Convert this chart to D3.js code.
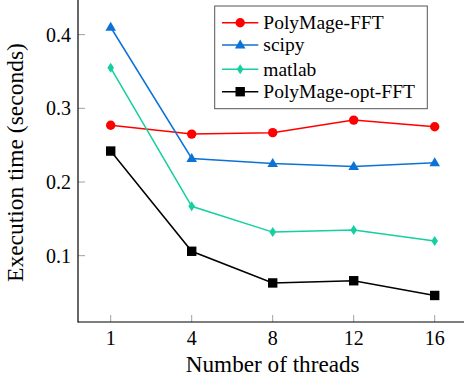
<!DOCTYPE html>
<html>
<head>
<meta charset="utf-8">
<script src="https://cdn.jsdelivr.net/npm/d3@7"></script>
<style>
  body { margin: 0; background: #fff; }
  text { font-family: "Liberation Serif", serif; fill: #000; }
</style>
</head>
<body>
<div id="chart"></div>
<script>
// thread counts and timings (seconds)
const threads = ['1', '4', '8', '12', '16'];
const polymageFFT = [0.277, 0.265, 0.267, 0.284, 0.275];
const scipy = [0.410, 0.232, 0.225, 0.221, 0.226];
const matlab = [0.355, 0.167, 0.132, 0.135, 0.120];
const polymageOptFFT = [0.242, 0.106, 0.063, 0.066, 0.046];
const yTicks = [0.1, 0.2, 0.3, 0.4];

const series = [
    { name: 'PolyMage-FFT', values: polymageFFT, color: '#ff0000', marker: 'circle' },
    { name: 'scipy', values: scipy, color: '#0b72d8', marker: 'triangle' },
    { name: 'matlab', values: matlab, color: '#14cf9f', marker: 'diamond' },
    { name: 'PolyMage-opt-FFT', values: polymageOptFFT, color: '#000000', marker: 'square' }
];

const width = 464;
const height = 375;
const left = 78, bottom = 322;

const svg = d3.select('#chart')
    .append('svg')
    .attr('width', width)
    .attr('height', height);

const x = d3.scalePoint()
    .domain(threads)
    .range([110.7, 434.7]);

const y = d3.scaleLinear()
    .domain([0.01, 0.447])
    .range([bottom, 0]);

// tick marks (inside, gray)
svg.append('g')
    .selectAll('line')
    .data(yTicks)
    .enter()
    .append('line')
    .attr('x1', left).attr('x2', left + 7)
    .attr('y1', d => y(d)).attr('y2', d => y(d))
    .attr('stroke', '#a0a0a0').attr('stroke-width', 1);

svg.append('g')
    .selectAll('line')
    .data(threads)
    .enter()
    .append('line')
    .attr('x1', d => x(d)).attr('x2', d => x(d))
    .attr('y1', bottom).attr('y2', bottom - 7)
    .attr('stroke', '#a0a0a0').attr('stroke-width', 1);

// tick labels
svg.append('g')
    .selectAll('text')
    .data(yTicks)
    .enter()
    .append('text')
    .attr('x', left - 7)
    .attr('y', d => y(d))
    .attr('dy', '0.35em')
    .attr('text-anchor', 'end')
    .style('font-size', '20px')
    .text(d => d.toFixed(1));

svg.append('g')
    .selectAll('text')
    .data(threads)
    .enter()
    .append('text')
    .attr('x', d => x(d))
    .attr('y', 345)
    .attr('text-anchor', 'middle')
    .style('font-size', '20px')
    .text(d => d);

// axis lines
svg.append('line')
    .attr('x1', left).attr('x2', left)
    .attr('y1', 0).attr('y2', bottom + 0.5)
    .attr('stroke', '#000').attr('stroke-width', 1.2);
svg.append('line')
    .attr('x1', left).attr('x2', width)
    .attr('y1', bottom).attr('y2', bottom)
    .attr('stroke', '#000').attr('stroke-width', 1.2);

// axis titles
svg.append('text')
    .attr('x', 272.7)
    .attr('y', 371.5)
    .attr('text-anchor', 'middle')
    .style('font-size', '23.2px')
    .text('Number of threads');

svg.append('text')
    .attr('transform', 'translate(22.5,162.5) rotate(-90)')
    .attr('text-anchor', 'middle')
    .style('font-size', '23.5px')
    .text('Execution time (seconds)');

function drawMarker(g, type, color, cx, cy) {
    if (type === 'circle') {
        g.append('circle').attr('cx', cx).attr('cy', cy).attr('r', 4.7).attr('fill', color);
    } else if (type === 'square') {
        g.append('rect').attr('x', cx - 4.7).attr('y', cy - 4.7)
            .attr('width', 9.4).attr('height', 9.4).attr('fill', color);
    } else if (type === 'triangle') {
        g.append('path')
            .attr('d', `M${cx},${cy - 5.5}L${cx + 5.3},${cy + 3.5}L${cx - 5.3},${cy + 3.5}Z`)
            .attr('fill', color);
    } else {
        g.append('path')
            .attr('d', `M${cx},${cy - 5}L${cx + 3.3},${cy}L${cx},${cy + 5}L${cx - 3.3},${cy}Z`)
            .attr('fill', color);
    }
}

const line = d3.line()
    .x((d, i) => x(threads[i]))
    .y(d => y(d));

series.forEach(s => {
    const g = svg.append('g');
    g.append('path')
        .datum(s.values)
        .attr('d', line)
        .attr('fill', 'none')
        .attr('stroke', s.color)
        .attr('stroke-width', 1.5);
    s.values.forEach((v, i) => drawMarker(g, s.marker, s.color, x(threads[i]), y(v)));
});

// legend
const legend = svg.append('g');
legend.append('rect')
    .attr('x', 214.7).attr('y', 6)
    .attr('width', 212.6).attr('height', 102.7)
    .attr('fill', '#fff')
    .attr('stroke', '#555').attr('stroke-width', 1);

const legendY = [22.7, 45, 69.3, 91.7];
series.forEach((s, i) => {
    const ly = legendY[i];
    legend.append('line')
        .attr('x1', 222).attr('x2', 258.3)
        .attr('y1', ly).attr('y2', ly)
        .attr('stroke', s.color).attr('stroke-width', 1.5);
    drawMarker(legend, s.marker, s.color, 240.2, ly);
    legend.append('text')
        .attr('x', 263.3)
        .attr('y', ly)
        .attr('dy', '0.33em')
        .style('font-size', '19.5px')
        .text(s.name);
});
</script>
</body>
</html>
